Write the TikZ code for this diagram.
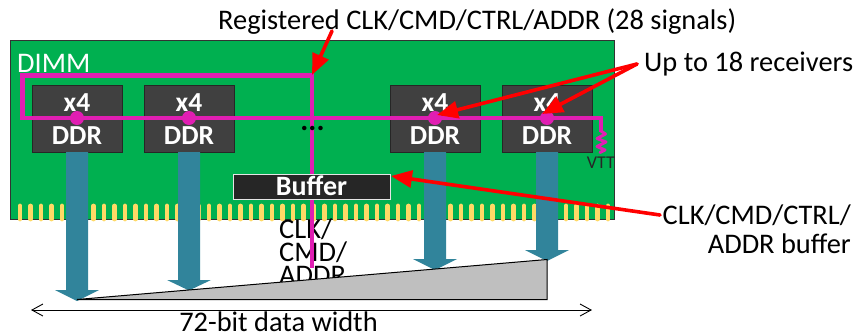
\documentclass[tikz,border=0pt]{standalone}
\usepackage{fontspec}
\setmainfont{Carlito}
\usetikzlibrary{arrows.meta}
\definecolor{dimmgreen}{HTML}{00B050}
\definecolor{chipgray}{HTML}{404040}
\definecolor{chipedge}{HTML}{262626}
\definecolor{barblue}{HTML}{31849B}
\definecolor{busmag}{HTML}{E01EB2}
\definecolor{gold}{HTML}{FFD966}
\definecolor{wedge}{HTML}{BFBFBF}
\definecolor{bufdark}{HTML}{262626}
\tikzset{
  x=1pt,y=-1pt,
  chipbox/.style={draw=chipedge,line width=1pt,fill=chipgray,minimum width=90pt,minimum height=67.5pt,inner sep=0pt,anchor=north west},
  chiptext/.style={text=white,font=\fontsize{27.5}{27.5}\selectfont\bfseries,inner sep=0pt},
  lbl/.style={text=black,font=\fontsize{28.4}{28.4}\selectfont,inner sep=0pt},
  bus/.style={draw=busmag,line width=4.4pt,line join=miter,line cap=rect},
  redarrow/.style={draw=red,line width=3.6pt,line cap=round,-{Triangle[length=21pt,width=17pt,fill=red]}},
}
\begin{document}
\begin{tikzpicture}
\useasboundingbox (0,0) rectangle (856,335);
% board
\node[draw=black!80,line width=1pt,fill=dimmgreen,minimum width=604pt,minimum height=179pt,inner sep=0pt,anchor=north west] (dimm) at (10,40) {};
% fingers
\foreach \k in {0,...,56}{
  \draw[gold,line width=4.8pt,line cap=round] ({20+10.5*\k},206) -- ({20+10.5*\k},219);
}
% text under the bus
\node[lbl,anchor=base west] (clk) at (279,238) {CLK/};
\node[lbl,anchor=base west] (cmd) at (279,261) {CMD/};
\node[lbl,anchor=base west] (addr) at (279,284) {ADDR};
% chips
\node[chipbox] (c1) at (31.5,84.5) {};
\node[chipbox] (c2) at (144,84.5) {};
\node[chipbox] (c3) at (390,84.5) {};
\node[chipbox] (c4) at (502,84.5) {};
% data bars
\foreach \c/\h/\t in {77/290/301,189/280/290.5,435/259/270,547/250/261}{
  \fill[barblue] ({\c-11},152) -- ({\c-11},\h) -- ({\c-22},\h) -- (\c,\t) -- ({\c+22},\h) -- ({\c+11},\h) -- ({\c+11},152) -- cycle;
}
% chip labels
\foreach \n/\c in {a/77,b/189,d/435,e/547}{
  \node[chiptext,anchor=base] (x\n) at (\c,111) {x4};
  \node[chiptext,anchor=base] (d\n) at (\c,144) {DDR};
}
% bus
\coordinate (tl) at (22.5,75.5);
\coordinate (tr) at (312,75.5);
\coordinate (bl) at (22.5,118);
\coordinate (br) at (601,118);
\coordinate (busend) at (312,266);
\draw[bus] (bl) -- (tl) -- (tr) -- (busend);
\draw[bus] (bl) -- (br) -- (601,130);
\draw[busmag,line width=3pt,line join=round,line cap=round] (601,131) -- (605.5,134) -- (597,138.5) -- (606,142) -- (597,146.5) -- (605,150) -- (600,152.5);
\foreach \c in {77,189,435,547}{
  \fill[busmag] (\c,118) circle (7pt);
}
\node[text=black,font=\fontsize{30}{30}\selectfont\bfseries,inner sep=0pt,anchor=base] (dots) at (312.5,130) {...};
\node[text=black!85,font=\fontsize{18}{18}\selectfont,inner sep=0pt,anchor=base east] (vtt) at (615,168) {VTT};
% buffer
\node[draw=black!10,line width=1pt,fill=bufdark,minimum width=157pt,minimum height=25pt,inner sep=0pt,anchor=north west] (buf) at (233,174) {};
\node[text=white,font=\fontsize{28}{28}\selectfont\bfseries,inner sep=0pt,anchor=base] (buflbl) at (311.5,195) {Buffer};
% wedge
\coordinate (w1) at (77,299.5);
\coordinate (w2) at (547,259.5);
\coordinate (w3) at (547,299.5);
\draw[fill=wedge,line width=1pt] (w1) -- (w2) -- (w3) -- cycle;
% width arrow
\coordinate (wl) at (31,310);
\coordinate (wr) at (592,310);
\draw[line width=0.9pt,{Straight Barb[length=11pt,width=12pt]}-{Straight Barb[length=11pt,width=12pt]}] (wl) -- (wr);
% labels
\node[lbl,anchor=base west] (reg) at (218,29) {Registered CLK/CMD/CTRL/ADDR (28 signals)};
\node[text=white,font=\fontsize{28.4}{28.4}\selectfont,inner sep=0pt,anchor=base west] (dimmlbl) at (17,72) {DIMM};
\node[lbl,anchor=base west] (up) at (644,71) {Up to 18 receivers};
\node[lbl,anchor=base east] (cc) at (851,224) {CLK/CMD/CTRL/};
\node[lbl,anchor=base east] (ab) at (851,253) {ADDR buffer};
\node[lbl,anchor=base] (width) at (278.5,331) {72-bit data width};
% red arrows
\coordinate (r1) at (332,31);
\coordinate (t1) at (312,75);
\coordinate (r2) at (637,64);
\coordinate (t2) at (437,115);
\coordinate (t3) at (542,114);
\coordinate (r3) at (660,215);
\coordinate (t3b) at (391,176);
\draw[redarrow] (r1) -- (t1);
\draw[redarrow] (r2) -- (t2);
\draw[redarrow] (r2) -- (t3);
\draw[redarrow] (r3) -- (t3b);
\end{tikzpicture}
\end{document}
